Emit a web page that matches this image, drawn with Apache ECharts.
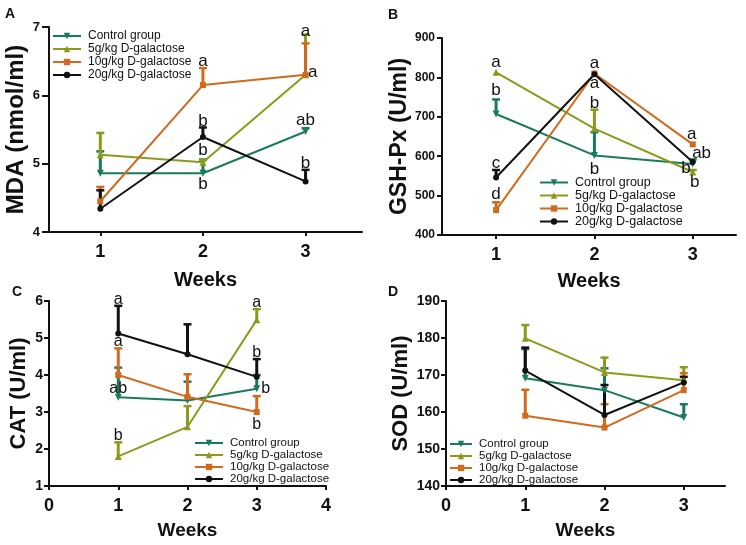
<!DOCTYPE html>
<html>
<head>
<meta charset="utf-8">
<script src="https://cdn.jsdelivr.net/npm/echarts@6/dist/echarts.min.js"></script>
<style>
	html, body { margin: 0; padding: 0; background: #fff; }
	#chart { width: 746px; height: 545px; }
</style>
</head>
<body>
<div id="chart"></div>
<script>
	// categories
	const weeks = [1, 2, 3]
	const groups = ['Control group', '5g/kg D-galactose', '10g/kg D-galactose', '20g/kg D-galactose']

	// A: MDA (nmol/ml) - means and upper error bar (SEM)
	const mdaControl = [4.86, 4.86, 5.47]
	const mda5g = [5.13, 5.02, 6.30]
	const mda10g = [4.45, 6.15, 6.30]
	const mda20g = [4.34, 5.39, 4.74]
	const mdaControlErr = [0.32, 0.20, 0.05]
	const mda5gErr = [0.32, 0.03, 0.59]
	const mda10gErr = [0.21, 0.25, 0.46]
	const mda20gErr = [0.27, 0.14, 0.17]
	const mdaLetters = [[2, 6.50, 'a'], [2, 5.62, 'b'], [2, 5.20, 'b'], [2, 4.70, 'b'],
		[3, 6.94, 'a'], [3.07, 6.33, 'a'], [3, 5.63, 'ab'], [3, 5.01, 'b']]

	// B: GSH-Px (U/ml)
	const gshControl = [707, 602, 580]
	const gsh5g = [813, 670, 560]
	const gsh10g = [463, 810, 630]
	const gsh20g = [546, 808, 585]
	const gshControlErr = [37, 59, 12]
	const gsh5gErr = [0, 48, 5]
	const gsh10gErr = [20, 0, 0]
	const gsh20gErr = [19, 0, 0]
	const gshLetters = [[1, 839, 'a'], [1, 766, 'b'], [1, 583, 'c'], [1, 504, 'd'],
		[2, 837, 'a'], [2, 786, 'a'], [2, 734, 'b'], [2, 567, 'b'],
		[2.99, 656, 'a'], [3.09, 608, 'ab'], [2.93, 570, 'b'], [3.02, 534, 'b']]

	// C: CAT (U/ml)
	const catControl = [3.40, 3.31, 3.63]
	const cat5g = [1.80, 2.60, 5.49]
	const cat10g = [4.00, 3.41, 3.00]
	const cat20g = [5.12, 4.56, 3.95]
	const catControlErr = [0.80, 0.51, 0.37]
	const cat5gErr = [0.38, 0.56, 0.29]
	const cat10gErr = [0.72, 0.61, 0.43]
	const cat20gErr = [0.75, 0.81, 0.48]
	const catLetters = [[1, 6.05, 'a'], [1, 4.90, 'a'], [1, 3.64, 'ab'], [1, 2.35, 'b'],
		[3, 5.96, 'a'], [3, 4.60, 'b'], [3.13, 3.64, 'b'], [3, 2.67, 'b']]

	// D: SOD (U/ml)
	const sodControl = [169.1, 165.9, 158.5]
	const sod5g = [179.9, 170.7, 168.6]
	const sod10g = [159.0, 155.8, 165.9]
	const sod20g = [171.2, 159.2, 168.0]
	const sodControlErr = [7.9, 5.9, 3.6]
	const sod5gErr = [3.6, 4.0, 3.5]
	const sod10gErr = [7.0, 6.3, 4.6]
	const sod20gErr = [6.2, 8.1, 1.5]

	const colors = ['#1a7a5c', '#8c9a1c', '#d06a1e', '#111111']
	const symbols = ['triangle', 'triangle', 'rect', 'circle']
	const symbolRotates = [180, 0, 0, 0]
	const symbolSizes = [7, 7, 6, 6]
	const font = 'Liberation Sans, Arial, sans-serif'

	const panels = [
		{ means: [mdaControl, mda5g, mda10g, mda20g], errs: [mdaControlErr, mda5gErr, mda10gErr, mda20gErr], letters: mdaLetters, letterSize: 17 },
		{ means: [gshControl, gsh5g, gsh10g, gsh20g], errs: [gshControlErr, gsh5gErr, gsh10gErr, gsh20gErr], letters: gshLetters, letterSize: 17 },
		{ means: [catControl, cat5g, cat10g, cat20g], errs: [catControlErr, cat5gErr, cat10gErr, cat20gErr], letters: catLetters, letterSize: 16 },
		{ means: [sodControl, sod5g, sod10g, sod20g], errs: [sodControlErr, sod5gErr, sod10gErr, sod20gErr], letters: [], letterSize: 16 }
	]

	const grids = [
		{ left: 49, top: 27, width: 313, height: 205 },
		{ left: 442, top: 38, width: 294, height: 197 },
		{ left: 49, top: 301, width: 277, height: 185 },
		{ left: 446, top: 301, width: 279, height: 185 }
	]

	const xAxes = [
		{ min: 0.5, max: 3.55, ticks: [1, 2, 3], gap: 38, size: 18, nameSize: 20 },
		{ min: 0.45, max: 3.44, ticks: [1, 2, 3], gap: 36, size: 18, nameSize: 20 },
		{ min: 0, max: 4, ticks: [0, 1, 2, 3, 4], gap: 35, size: 18, nameSize: 19 },
		{ min: 0, max: 3.52, ticks: [0, 1, 2, 3], gap: 35, size: 18, nameSize: 19 }
	].map((a, i) => ({
		type: 'value', gridIndex: i, min: a.min, max: a.max,
		name: 'Weeks', nameLocation: 'middle', nameGap: a.gap,
		nameTextStyle: { fontFamily: font, fontWeight: 'bold', fontSize: a.nameSize, color: '#111' },
		axisLine: { lineStyle: { color: '#111', width: 2 } },
		axisTick: { customValues: a.ticks, length: 4, lineStyle: { color: '#111', width: 2 } },
		axisLabel: { customValues: a.ticks, fontFamily: font, fontWeight: 'bold', fontSize: a.size, color: '#111', margin: 11 },
		splitLine: { show: false }
	}))

	const yAxes = [
		{ min: 4, max: 7, interval: 1, name: 'MDA (nmol/ml)', gap: 17, nameSize: 24, size: 13, tick: 7, margin: 9 },
		{ min: 400, max: 900, interval: 100, name: 'GSH-Px (U/ml)', gap: 27, nameSize: 23, size: 12, tick: 5, margin: 7 },
		{ min: 1, max: 6, interval: 1, name: 'CAT (U/ml)', gap: 19, nameSize: 22, size: 14, tick: 5, margin: 6 },
		{ min: 140, max: 190, interval: 10, name: 'SOD (U/ml)', gap: 34, nameSize: 22, size: 14, tick: 5, margin: 6 }
	].map((a, i) => ({
		type: 'value', gridIndex: i, min: a.min, max: a.max, interval: a.interval,
		name: a.name, nameLocation: 'middle', nameGap: a.gap,
		nameTextStyle: { fontFamily: font, fontWeight: 'bold', fontSize: a.nameSize, color: '#111' },
		axisLine: { show: true, lineStyle: { color: '#111', width: 2 } },
		axisTick: { show: true, length: a.tick, lineStyle: { color: '#111', width: 2 } },
		axisLabel: { fontFamily: font, fontWeight: 'bold', fontSize: a.size, color: '#111', margin: a.margin },
		splitLine: { show: false }
	}))

	const series = []
	panels.forEach((p, pi) => {
		p.means.forEach((vals, gi) => {
			// error bars (upper only, with cap)
			series.push({
				type: 'custom', name: 'err', xAxisIndex: pi, yAxisIndex: pi, z: 2,
				itemStyle: { color: colors[gi] },
				data: weeks.map((w, k) => [w, vals[k], p.errs[gi][k]]),
				renderItem: (params, api) => {
					const x = api.value(0), y = api.value(1), e = api.value(2)
					if (!e) return null
					const p0 = api.coord([x, y])
					const p1 = api.coord([x, y + e])
					const c = api.visual('color')
					return {
						type: 'group',
						children: [
							{ type: 'line', shape: { x1: p0[0], y1: p0[1], x2: p1[0], y2: p1[1] }, style: { stroke: c, lineWidth: 3 } },
							{ type: 'line', shape: { x1: p1[0] - 4, y1: p1[1], x2: p1[0] + 4, y2: p1[1] }, style: { stroke: c, lineWidth: 2.5 } }
						]
					}
				}
			})
			series.push({
				type: 'line', name: groups[gi], xAxisIndex: pi, yAxisIndex: pi, z: 3,
				data: weeks.map((w, k) => [w, vals[k]]),
				symbol: symbols[gi], symbolSize: symbolSizes[gi], symbolRotate: symbolRotates[gi],
				showAllSymbol: true,
				lineStyle: { color: colors[gi], width: 2 },
				itemStyle: { color: colors[gi], borderWidth: 0 },
				emphasis: { disabled: true }
			})
		})
		if (p.letters.length) {
			series.push({
				type: 'custom', name: 'letters', xAxisIndex: pi, yAxisIndex: pi, z: 5,
				data: p.letters.map((d) => [d[0], d[1]]),
				renderItem: (params, api) => {
					const pt = api.coord([api.value(0), api.value(1)])
					return {
						type: 'text', x: pt[0], y: pt[1],
						style: { text: p.letters[params.dataIndex][2], font: p.letterSize + 'px ' + font, fill: '#111', align: 'center', verticalAlign: 'middle' }
					}
				}
			})
		}
	})

	const legendPos = [
		{ left: 52, top: 30, width: 28, size: 12, gap: 1 },
		{ left: 539, top: 176, width: 28, size: 12.5, gap: 0 },
		{ left: 194, top: 437, width: 28, size: 11.5, gap: 0 },
		{ left: 449, top: 438, width: 22, size: 11.5, gap: 0 }
	]
	const legends = legendPos.map((l) => ({
		data: groups, orient: 'vertical', left: l.left, top: l.top,
		itemWidth: l.width, itemHeight: 8, itemGap: l.gap, padding: 0,
		selectedMode: false,
		textStyle: { fontFamily: font, fontSize: l.size, color: '#111', lineHeight: 12, padding: [0, 0, 0, 2] }
	}))

	const panelLetters = [['A', 5, 7], ['B', 388, 8], ['C', 12, 285], ['D', 388, 285]]

	const myCharts = echarts.init(document.getElementById('chart'))
	const option = {
		animation: false,
		backgroundColor: '#fff',
		grid: grids.map((g) => Object.assign({ outerBoundsMode: 'none', containLabel: false }, g)),
		xAxis: xAxes,
		yAxis: yAxes,
		legend: legends,
		series: series,
		graphic: panelLetters.map((t) => ({
			type: 'text', left: t[1], top: t[2],
			style: { text: t[0], font: 'bold 14px ' + font, fill: '#111' }
		}))
	}
	myCharts.setOption(option)
</script>
</body>
</html>
